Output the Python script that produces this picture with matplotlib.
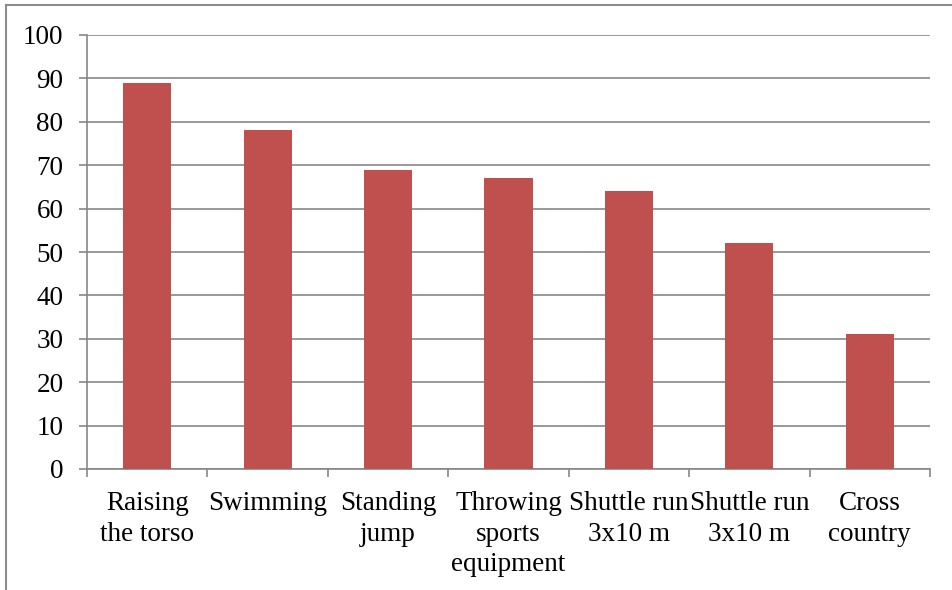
import matplotlib

matplotlib.use("Agg")
import matplotlib.pyplot as plt
from matplotlib.lines import Line2D

categories = [
    "Raising\nthe torso",
    "Swimming",
    "Standing\njump",
    "Throwing\nsports\nequipment",
    "Shuttle run\n3x10 m",
    "Shuttle run\n3x10 m",
    "Cross\ncountry",
]
values = [89, 78, 69, 67, 64, 52, 31]
y_ticks = list(range(0, 101, 10))

plt.rcParams["font.family"] = ["Liberation Serif", "DejaVu Serif"]
GRID = "#878787"
BAR = "#C0504D"

fig = plt.figure(figsize=(9.53, 5.9), dpi=100)
ax = fig.add_axes([87 / 953, 121 / 590, 843 / 953, 434 / 590])

xs = list(range(len(categories)))
ax.bar(xs, values, width=0.4, color=BAR, zorder=3)

ax.set_xlim(-0.5, len(categories) - 0.5)
ax.set_ylim(0, 100)
ax.set_yticks(y_ticks)
ax.set_yticklabels([str(t) for t in y_ticks], fontsize=19.5)
ax.set_xticks(xs)
ax.set_xticklabels(categories, fontsize=19.5, linespacing=1.29)
ax.tick_params(axis="x", length=0, pad=16)
ax.set_xticks([i - 0.5 for i in range(len(categories) + 1)], minor=True)
ax.tick_params(axis="x", which="minor", length=6, width=1.2, color=GRID)
ax.tick_params(axis="y", length=6, width=1.2, color=GRID, pad=11)

ax.grid(axis="y", color=GRID, linewidth=1.2, zorder=0)
for side in ("top", "right"):
    ax.spines[side].set_visible(False)
for side in ("left", "bottom"):
    ax.spines[side].set_color(GRID)
    ax.spines[side].set_linewidth(1.2)

# outer frame (top and left edges visible)
fig.add_artist(Line2D([6 / 953, 1], [1 - 5 / 590, 1 - 5 / 590],
                      transform=fig.transFigure, color="#8c8c8c", lw=1.5))
fig.add_artist(Line2D([6 / 953, 6 / 953], [0, 1 - 5 / 590],
                      transform=fig.transFigure, color="#8c8c8c", lw=1.5))

fig.savefig("out.png", dpi=100)
